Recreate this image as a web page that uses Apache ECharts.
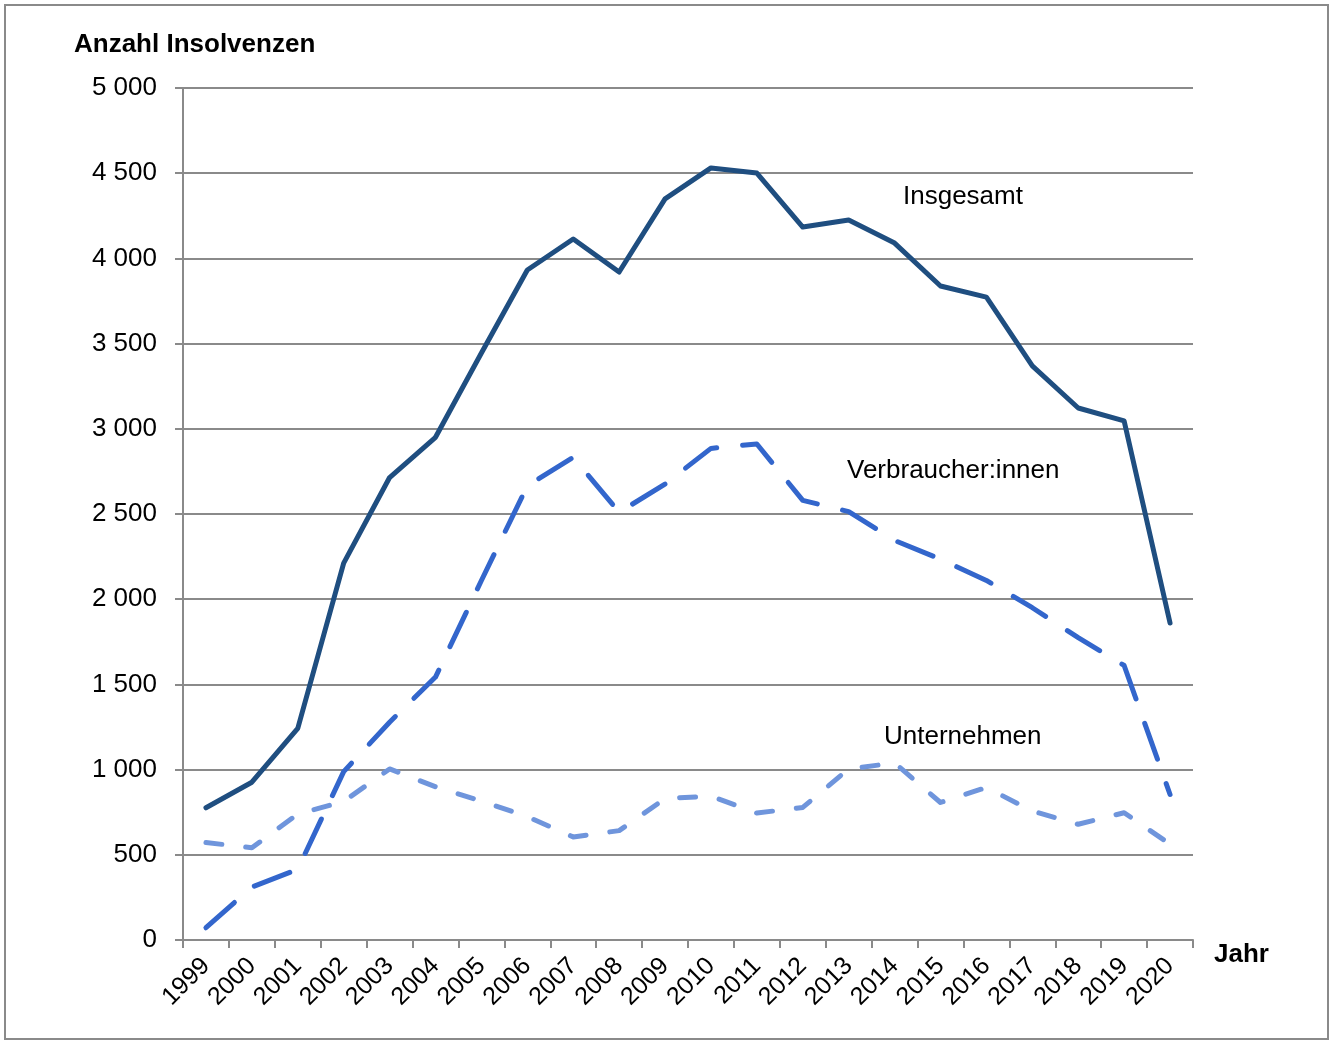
<!DOCTYPE html>
<html>
<head>
<meta charset="utf-8">
<script src="https://cdn.jsdelivr.net/npm/echarts@6/dist/echarts.min.js"></script>
<style>
  html, body { margin: 0; padding: 0; background: #fff; }
  #chart { width: 1332px; height: 1042px; }
</style>
</head>
<body>
<div id="chart"></div>
<script>
const years = ['1999', '2000', '2001', '2002', '2003', '2004', '2005', '2006', '2007', '2008', '2009',
  '2010', '2011', '2012', '2013', '2014', '2015', '2016', '2017', '2018', '2019', '2020'];

const insgesamt = [776, 926, 1242, 2212, 2714, 2950, 3445, 3932, 4114, 3920, 4349,
  4531, 4501, 4184, 4225, 4090, 3838, 3773, 3369, 3122, 3046, 1860];

const verbraucher = [72, 311, 415, 988, 1278, 1543, 2110, 2665, 2833, 2510, 2676,
  2885, 2911, 2580, 2514, 2345, 2235, 2110, 1950, 1774, 1611, 854];

const unternehmen = [572, 541, 739, 813, 1004, 899, 815, 724, 605, 642, 830,
  844, 745, 778, 1004, 1039, 807, 895, 757, 679, 747, 562];

const yTicks = { min: 0, max: 5000, interval: 500 };

const font = '"Liberation Sans", Arial, sans-serif';
const gridColor = '#8a8a8a';

const chart = echarts.init(document.getElementById('chart'));

// 5000 -> "5 000"
const fmtThousands = (v) => String(v).replace(/\B(?=(\d{3})+(?!\d))/g, ' ');

const option = {
  backgroundColor: '#fff',
  animation: false,
  grid: { left: 183, right: 139, top: 88, bottom: 102, containLabel: false },
  xAxis: {
    type: 'category',
    data: years,
    boundaryGap: true,
    axisLine: { lineStyle: { color: gridColor, width: 2 } },
    axisTick: { show: true, interval: 0, length: 8, lineStyle: { color: gridColor, width: 2 } },
    axisLabel: {
      interval: 0,
      rotate: 45,
      margin: 22,
      fontFamily: font,
      fontSize: 25,
      color: '#000'
    },
    splitLine: { show: false }
  },
  yAxis: {
    type: 'value',
    min: yTicks.min,
    max: yTicks.max,
    interval: yTicks.interval,
    axisLine: { show: true, lineStyle: { color: gridColor, width: 2 } },
    axisTick: { show: true, length: 8, lineStyle: { color: gridColor, width: 2 } },
    axisLabel: {
      margin: 26,
      fontFamily: font,
      fontSize: 26,
      color: '#000',
      formatter: fmtThousands
    },
    splitLine: { show: true, lineStyle: { color: gridColor, width: 2 } }
  },
  series: [
    {
      name: 'Unternehmen',
      type: 'line',
      data: unternehmen,
      symbol: 'none',
      lineStyle: { color: '#6f95dc', width: 5, type: [16, 24], cap: 'round', join: 'round' }
    },
    {
      name: 'Verbraucher:innen',
      type: 'line',
      data: verbraucher,
      symbol: 'none',
      lineStyle: { color: '#3366cc', width: 5, type: [38, 26], cap: 'round', join: 'round' }
    },
    {
      name: 'Insgesamt',
      type: 'line',
      data: insgesamt,
      symbol: 'none',
      lineStyle: { color: '#1f4e80', width: 5, cap: 'round', join: 'round' }
    }
  ],
  graphic: [
    {
      type: 'rect',
      shape: { x: 5, y: 5, width: 1323, height: 1034 },
      style: { fill: 'none', stroke: gridColor, lineWidth: 2 },
      silent: true
    },
    {
      type: 'text', left: 74, top: 32,
      style: { text: 'Anzahl Insolvenzen', font: 'bold 26px ' + font, fill: '#000' }
    },
    {
      type: 'text', left: 1214, top: 942,
      style: { text: 'Jahr', font: 'bold 26px ' + font, fill: '#000' }
    },
    {
      type: 'text', left: 903, top: 184,
      style: { text: 'Insgesamt', font: '26px ' + font, fill: '#000' }
    },
    {
      type: 'text', left: 847, top: 458,
      style: { text: 'Verbraucher:innen', font: '26px ' + font, fill: '#000' }
    },
    {
      type: 'text', left: 884, top: 724,
      style: { text: 'Unternehmen', font: '26px ' + font, fill: '#000' }
    }
  ]
};

chart.setOption(option);
window.addEventListener('resize', () => chart.resize());
</script>
</body>
</html>
